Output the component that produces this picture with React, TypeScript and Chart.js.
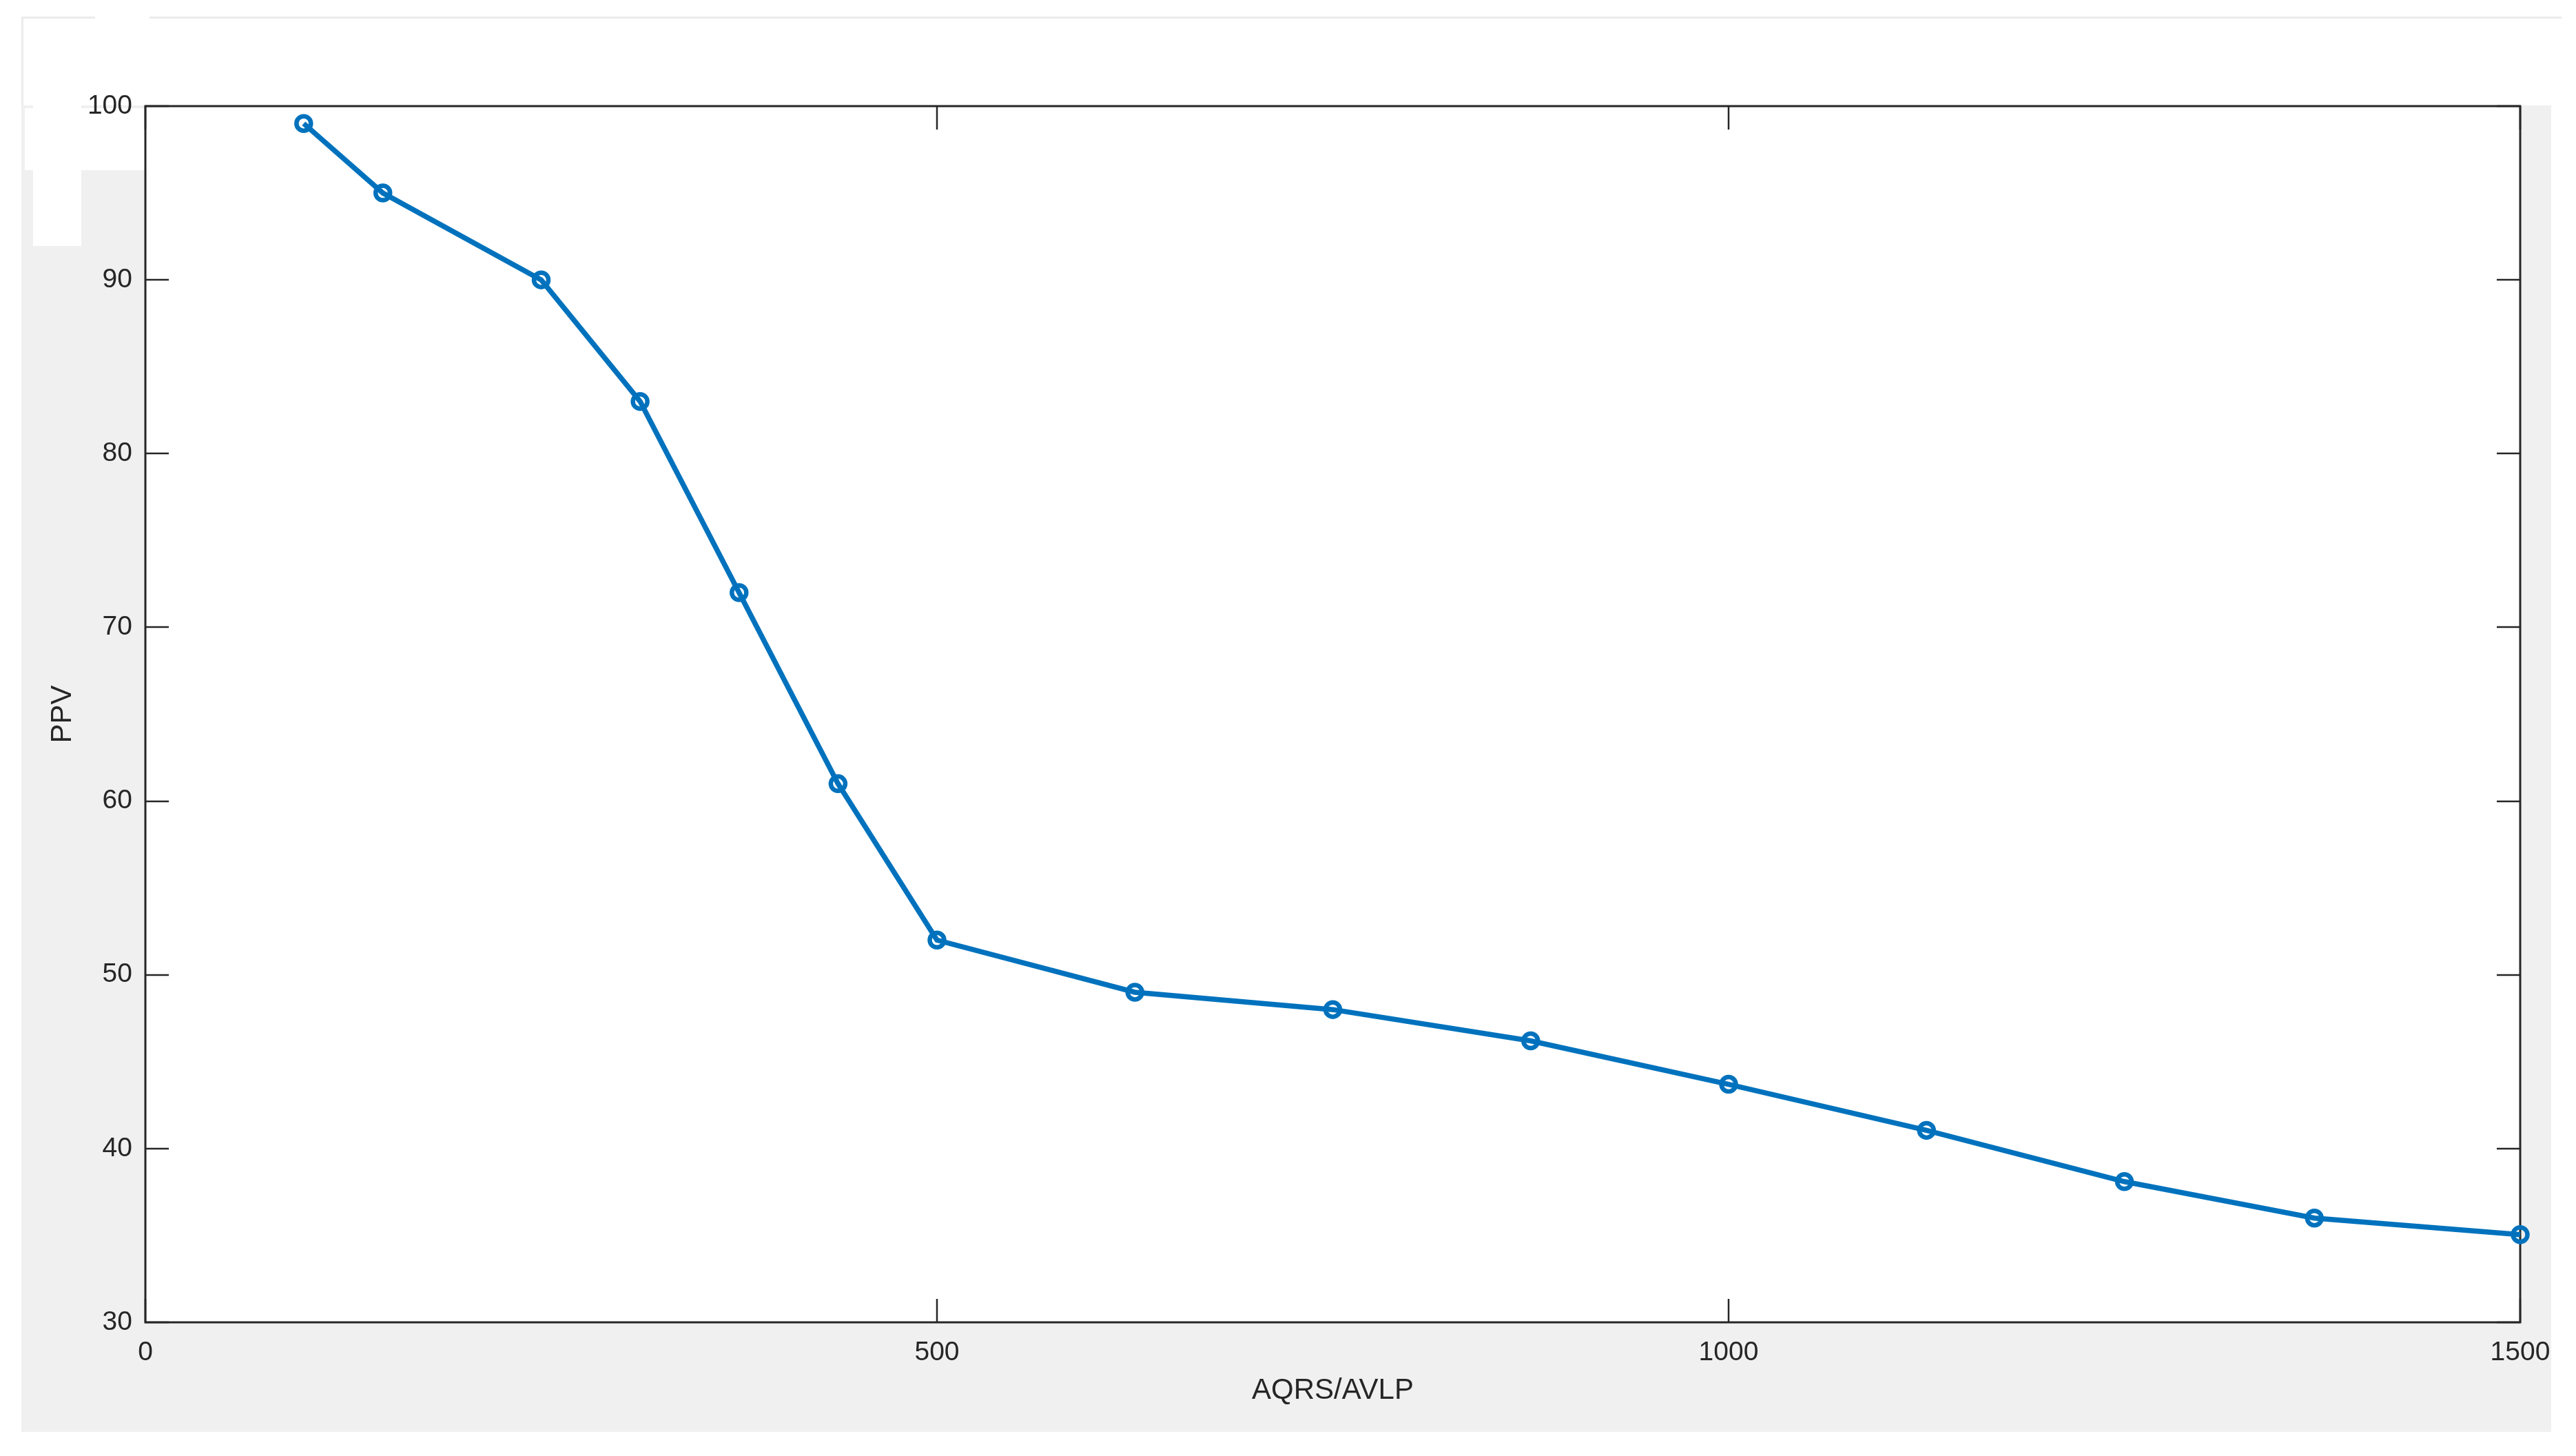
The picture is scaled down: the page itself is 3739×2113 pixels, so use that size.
import React, { useEffect, useRef } from 'react';
import { Chart, registerables } from 'chart.js';

Chart.register(...registerables);

// ---- Data ----
const xValues = [100, 150, 250, 312.5, 375, 437.5, 500, 625, 750, 875, 1000, 1125, 1250, 1370, 1500];
const ppvValues = [99, 95, 90, 83, 72, 61, 52, 49, 48, 46.2, 43.7, 41.05, 38.1, 36.0, 35.05];
const xTickValues = [0, 500, 1000, 1500];
const yTickValues = [30, 40, 50, 60, 70, 80, 90, 100];
const xAxisTitle = 'AQRS/AVLP';
const yAxisTitle = 'PPV';

const W = 3739;
const H = 2113;
const AXIS_COLOR = '#262626';
const LINE_COLOR = '#0072BD';
const FIG_GRAY = '#f0f0f0';
const FONT = '"Liberation Sans", Arial, Helvetica, sans-serif';
const TICK_LEN = 34;

const figurePlugin = {
  id: 'matlabFigure',
  beforeDraw(chart: any) {
    const ctx = chart.ctx;
    ctx.save();
    ctx.fillStyle = '#ffffff';
    ctx.fillRect(0, 0, W, H);
    // figure background
    ctx.fillStyle = FIG_GRAY;
    ctx.fillRect(31, 153, 3703 - 31, 2078 - 153);
    // white patches at top-left
    ctx.fillStyle = '#ffffff';
    ctx.fillRect(36, 157, 210 - 36, 247 - 157);
    ctx.fillRect(48, 153, 118 - 48, 357 - 153);
    // faint frame line at top
    ctx.fillStyle = '#ebebeb';
    ctx.fillRect(31, 24, 138 - 31, 3);
    ctx.fillRect(217, 24, 3718 - 217, 3);
    ctx.fillRect(31, 24, 3, 153 - 24);
    // plot area
    const { left, top, right, bottom } = chart.chartArea;
    ctx.fillStyle = '#ffffff';
    ctx.fillRect(left, top, right - left, bottom - top);
    ctx.restore();
  },
  beforeDatasetsDraw(chart: any) {
    const ctx = chart.ctx;
    const { left, top, right, bottom } = chart.chartArea;
    const xs = chart.scales.x;
    const ys = chart.scales.y;
    ctx.save();
    ctx.strokeStyle = AXIS_COLOR;
    ctx.lineWidth = 2.5;
    ctx.beginPath();
    xs.ticks.forEach((t: any) => {
      const px = Math.round(xs.getPixelForValue(t.value));
      ctx.moveTo(px, bottom);
      ctx.lineTo(px, bottom - TICK_LEN);
      ctx.moveTo(px, top);
      ctx.lineTo(px, top + TICK_LEN);
    });
    ys.ticks.forEach((t: any) => {
      const py = Math.round(ys.getPixelForValue(t.value));
      ctx.moveTo(left, py);
      ctx.lineTo(left + TICK_LEN, py);
      ctx.moveTo(right, py);
      ctx.lineTo(right - TICK_LEN, py);
    });
    ctx.stroke();
    ctx.lineWidth = 3;
    ctx.strokeRect(left, top, right - left, bottom - top);
    ctx.restore();
  },
};

export default function App() {
  const canvasRef = useRef<HTMLCanvasElement | null>(null);

  useEffect(() => {
    if (!canvasRef.current) return;
    const chart = new Chart(canvasRef.current, {
      type: 'line',
      data: {
        datasets: [
          {
            label: yAxisTitle,
            data: xValues.map((x, i) => ({ x, y: ppvValues[i] })),
            borderColor: LINE_COLOR,
            borderWidth: 7.5,
            backgroundColor: 'rgba(0,0,0,0)',
            pointStyle: 'circle',
            pointRadius: 10.5,
            pointBorderWidth: 6.5,
            pointBorderColor: LINE_COLOR,
            pointBackgroundColor: 'rgba(0,0,0,0)',
            tension: 0,
            fill: false,
            clip: false as any,
          },
        ],
      },
      options: {
        animation: false,
        responsive: false,
        devicePixelRatio: 1,
        events: [],
        layout: { padding: { left: 0, right: 81, top: 154, bottom: 0 } },
        plugins: {
          legend: { display: false },
          tooltip: { enabled: false },
          title: { display: false },
        },
        scales: {
          x: {
            type: 'linear',
            min: 0,
            max: 1500,
            afterBuildTicks: (scale: any) => {
              scale.ticks = xTickValues.map((v) => ({ value: v }));
            },
            afterFit: (scale: any) => {
              scale.height = 194;
            },
            grid: { display: false, drawTicks: false },
            border: { display: false },
            ticks: {
              color: AXIS_COLOR,
              padding: 21,
              maxRotation: 0,
              autoSkip: false,
              font: { family: FONT, size: 39 },
              callback: (v: any) => String(v),
            },
            title: {
              display: true,
              text: xAxisTitle,
              color: AXIS_COLOR,
              font: { family: FONT, size: 42 },
              padding: { top: 0, bottom: 69 },
            },
          },
          y: {
            type: 'linear',
            min: 30,
            max: 100,
            afterBuildTicks: (scale: any) => {
              scale.ticks = yTickValues.map((v) => ({ value: v }));
            },
            afterFit: (scale: any) => {
              scale.width = 211;
            },
            grid: { display: false, drawTicks: false },
            border: { display: false },
            ticks: {
              color: AXIS_COLOR,
              padding: 19,
              autoSkip: false,
              font: { family: FONT, size: 39 },
              callback: (v: any) => String(v),
            },
            title: {
              display: true,
              text: yAxisTitle,
              color: AXIS_COLOR,
              font: { family: FONT, size: 42 },
              padding: { top: 66, bottom: 0 },
            },
          },
        },
      },
      plugins: [figurePlugin],
    });
    return () => chart.destroy();
  }, []);

  return (
    <div style={{ position: 'absolute', left: 0, top: 0, width: W, height: H, background: '#ffffff' }}>
      <canvas ref={canvasRef} width={W} height={H} style={{ width: W, height: H, display: 'block' }} />
    </div>
  );
}
